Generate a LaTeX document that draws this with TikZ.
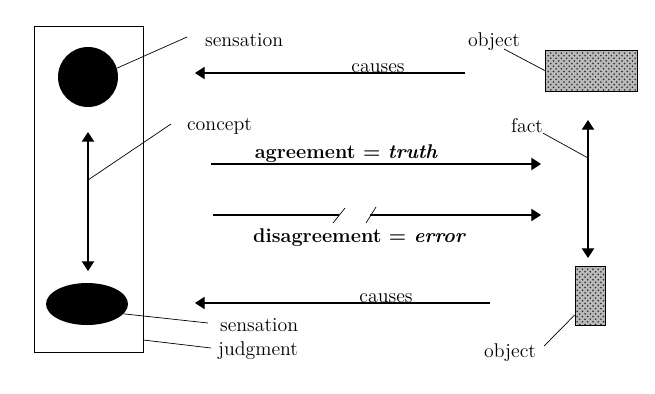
\documentclass[tikz,border=0pt]{standalone}
\usepackage{tikz}
\usetikzlibrary{positioning,shapes,calc,arrows.meta,patterns}

\begin{document}
\begin{tikzpicture}[x=0.02cm,y=-0.02cm,font=\fontsize{11.3}{13}\selectfont,
    arr/.style={semithick,-{Triangle[width=7pt,length=5.5pt]}},
    twoarr/.style={semithick,{Triangle[width=7pt,length=5.5pt]}-{Triangle[width=7pt,length=5.5pt]}},
    lead/.style={thin},
    obj/.style={draw,thin,preaction={fill=gray!55},pattern=crosshatch dots,pattern color=black!85},
    txt/.style={inner sep=1pt}]
            \useasboundingbox (0,0) rectangle (655,393);
            % mind side
            \node[draw,thin,minimum width=2.18cm,minimum height=6.52cm] (judg) at (88.5,189) {};
            \node[circle,fill=black,inner sep=0,minimum size=1.2cm] (sensA) at (88,77) {};
            \node[ellipse,fill=black,inner sep=0,minimum width=1.64cm,minimum height=0.84cm] (sensB) at (87,304) {};
            \coordinate (conTop) at (88,132);
            \coordinate (conBot) at (88,271);
            \coordinate (conMid) at (88,180);
            \draw[twoarr] (conBot) -- (conTop);
            % world side
            \node[obj,minimum width=1.84cm,minimum height=0.82cm] (objA) at (591,70.5) {};
            \node[obj,minimum width=0.6cm,minimum height=1.18cm] (objB) at (590,295.5) {};
            \coordinate (factTop) at (588,120);
            \coordinate (factBot) at (588,258);
            \coordinate (factMid) at (588,158);
            \draw[twoarr] (factBot) -- (factTop);
            % labels
            \node[txt,anchor=west] (sensTxtA) at (203,40) {sensation};
            \node[txt,anchor=west] (conTxt) at (185,126) {concept};
            \node[txt,anchor=west] (objTxtA) at (466,42) {object};
            \node[txt,anchor=west] (factTxt) at (509,126) {fact};
            \node[txt,anchor=west] (sensTxtB) at (218,325) {sensation};
            \node[txt,anchor=west] (judgTxt) at (216,351) {judgment};
            \node[txt,anchor=west] (objTxtB) at (482,353) {object};
            % leaders
            \draw[lead] (sensA.17) -- ($(sensTxtA.west)+(-16,-3)$);
            \draw[lead] (conMid) -- ($(conTxt.west)+(-14,-2)$);
            \draw[lead] (objA.west) -- ($(objTxtA.south east)+(-18,-4)$);
            \draw[lead] (factMid) -- ($(factTxt.south east)+(-2,-2)$);
            \draw[lead] (objB.west |- 0,315) -- ($(objTxtB.east)+(6,-7)$);
            \draw[lead] (sensB.-15) -- ($(sensTxtB.west)+(-10,-2)$);
            \draw[lead] (judg.east |- 0,340) -- ($(judgTxt.west)+(-5,-3)$);
            % causes
            \coordinate (cauAs) at (465,73);
            \coordinate (cauAe) at (195,73);
            \coordinate (cauBs) at (490,303);
            \coordinate (cauBe) at (195,303);
            \draw[arr] (cauAs) -- (cauAe);
            \draw[arr] (cauBs) -- (cauBe);
            \node[anchor=base,inner sep=0] (cauAtxt) at (378,72) {causes};
            \node[anchor=base,inner sep=0] (cauBtxt) at (386,302) {causes};
            % agreement / disagreement
            \coordinate (agrS) at (211,164);
            \coordinate (agrE) at (541,164);
            \draw[arr] (agrS) -- (agrE);
            \node[anchor=base,inner sep=0] (agrTxt) at (346,158) {\bfseries agreement = \itshape truth};
            \coordinate (disS) at (213,215);
            \coordinate (disL) at (339,215);
            \coordinate (disR) at (370,215);
            \coordinate (disE) at (541,215);
            \draw[semithick] (disS) -- (disL);
            \draw[arr] (disR) -- (disE);
            \draw[thin] ($(disL)+(-6,8)$) -- ($(disL)+(6,-7)$);
            \draw[thin] ($(disR)+(-4,8)$) -- ($(disR)+(6,-8)$);
            \node[anchor=base,inner sep=0] (disTxt) at (359,242) {\bfseries disagreement = \itshape error};
        \end{tikzpicture}
\end{document}
